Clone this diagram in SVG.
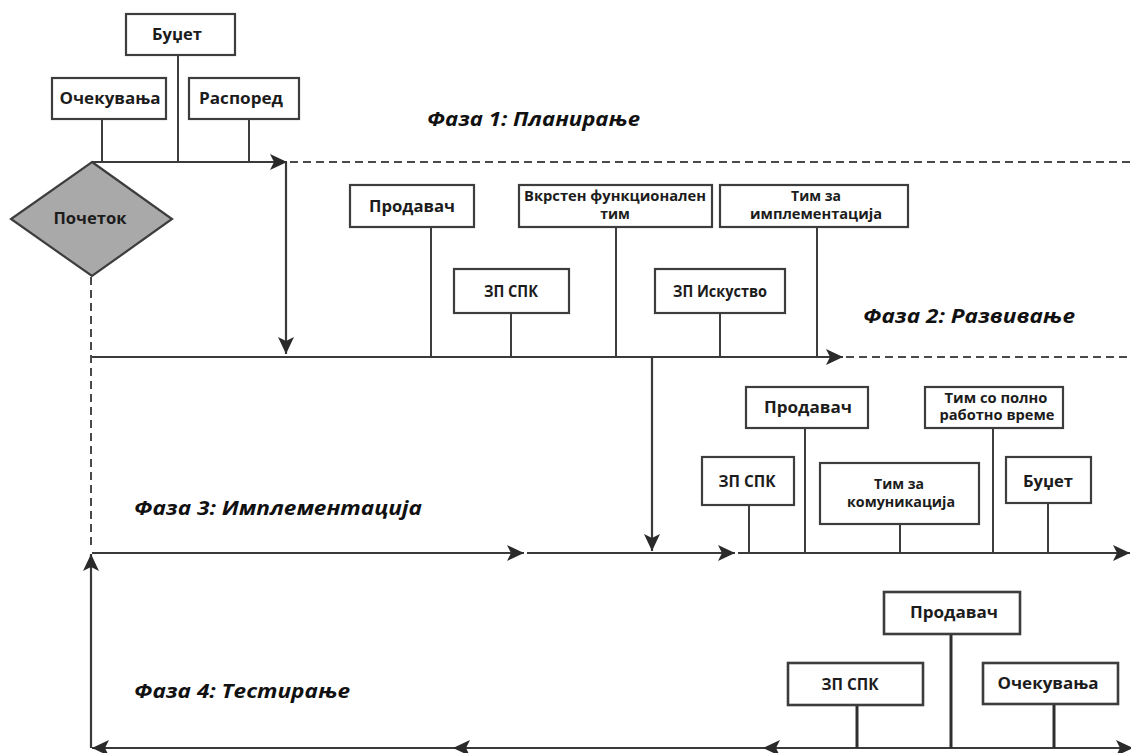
<svg xmlns="http://www.w3.org/2000/svg" width="1131" height="753" viewBox="0 0 1131 753">
  <style>
    .box { fill: #ffffff; stroke: #3d3d3d; stroke-width: 2.2; }
    .box4 { fill: #ffffff; stroke: #3d3d3d; stroke-width: 2.6; }
    .stem { stroke: #3d3d3d; stroke-width: 2; fill: none; }
    .stem4 { stroke: #2e2e2e; stroke-width: 3; fill: none; }
    .flow { stroke: #3a3a3a; stroke-width: 2.2; fill: none; }
    .dash { stroke: #4a4a4a; stroke-width: 2; fill: none; stroke-dasharray: 8 5; }
    .lbl { font-family: "Open Sans", "Liberation Sans", sans-serif; font-weight: 700; font-size: 16px; fill: #1c1c1c; text-anchor: middle; }
    .lbl2 { font-family: "Open Sans", "Liberation Sans", sans-serif; font-weight: 700; font-size: 14px; fill: #1c1c1c; text-anchor: middle; }
    .phase { font-family: "Open Sans", "Liberation Sans", sans-serif; font-weight: 700; font-style: italic; font-size: 20px; fill: #111111; }
  </style>
  <defs>
    <marker id="arrow" viewBox="0 0 17 16" markerWidth="17" markerHeight="16" refX="17" refY="8" orient="auto" markerUnits="userSpaceOnUse">
      <path d="M0,0 L17,8 L0,16 L4,8 Z" fill="#2a2a2a"/>
    </marker>
  </defs>

  <rect width="1131" height="753" fill="#ffffff"/>

  <!-- connectors: main flow lines, dashed phase borders and stems -->
  <g id="connectors">
    <!-- phase 1 -->
    <line class="flow" x1="92" y1="162" x2="287" y2="162" marker-end="url(#arrow)"/>
    <line class="dash" x1="290" y1="162" x2="1131" y2="162"/>
    <line class="flow" x1="286" y1="162" x2="286" y2="354" marker-end="url(#arrow)"/>
    <line class="stem" x1="102" y1="119" x2="102" y2="162"/>
    <line class="stem" x1="178" y1="55" x2="178" y2="162"/>
    <line class="stem" x1="249" y1="119" x2="249" y2="162"/>

    <!-- start diamond down to phase 3 -->
    <line class="dash" x1="91" y1="277" x2="91" y2="550"/>

    <!-- phase 2 -->
    <line class="flow" x1="92" y1="357" x2="843" y2="357" marker-end="url(#arrow)"/>
    <line class="dash" x1="846" y1="357" x2="1131" y2="357"/>
    <line class="stem" x1="431" y1="227" x2="431" y2="357"/>
    <line class="stem" x1="511" y1="313" x2="511" y2="357"/>
    <line class="stem" x1="616" y1="227" x2="616" y2="357"/>
    <line class="stem" x1="720" y1="313" x2="720" y2="357"/>
    <line class="stem" x1="817" y1="227" x2="817" y2="357"/>
    <line class="flow" x1="652" y1="357" x2="652" y2="551" marker-end="url(#arrow)"/>

    <!-- phase 3 -->
    <line class="flow" x1="92" y1="553" x2="524" y2="553" marker-end="url(#arrow)"/>
    <line class="flow" x1="527" y1="553" x2="735" y2="553" marker-end="url(#arrow)"/>
    <line class="flow" x1="738" y1="553" x2="1130" y2="553" marker-end="url(#arrow)"/>
    <line class="stem" x1="749" y1="505" x2="749" y2="553"/>
    <line class="stem" x1="805" y1="428" x2="805" y2="553"/>
    <line class="stem" x1="900" y1="524" x2="900" y2="553"/>
    <line class="stem" x1="993" y1="428" x2="993" y2="553"/>
    <line class="stem" x1="1048" y1="503" x2="1048" y2="553"/>

    <!-- phase 4 (right to left) and return up -->
    <line class="flow" x1="1131" y1="748" x2="763" y2="748" marker-end="url(#arrow)"/>
    <line class="flow" x1="763" y1="748" x2="453" y2="748" marker-end="url(#arrow)"/>
    <line class="flow" x1="453" y1="748" x2="92" y2="748" marker-end="url(#arrow)"/>
    <path d="M1116,740 L1133,748 L1116,756 L1120,748 Z" fill="#2a2a2a"/>
    <line class="flow" x1="91" y1="748" x2="91" y2="554" marker-end="url(#arrow)"/>
    <line class="stem4" x1="857" y1="705" x2="857" y2="748"/>
    <line class="stem4" x1="951" y1="634" x2="951" y2="748"/>
    <line class="stem4" x1="1054" y1="704" x2="1054" y2="748"/>
  </g>

  <!-- start -->
  <g id="start">
    <polygon points="92,162 172,219 92,276 11,219" fill="#a9a9a9" stroke="#3d3d3d" stroke-width="2.2"/>
    <text class="lbl" x="90" y="224" textLength="73" lengthAdjust="spacingAndGlyphs">Почеток</text>
  </g>

  <!-- phase 1: planning -->
  <g id="p1-budget">
    <rect class="box" x="126" y="14" width="109" height="41"/>
    <text class="lbl" x="177" y="40" textLength="50" lengthAdjust="spacingAndGlyphs">Буџет</text>
  </g>
  <g id="p1-expectations">
    <rect class="box" x="52" y="78" width="114" height="41"/>
    <text class="lbl" x="110" y="104" textLength="101" lengthAdjust="spacingAndGlyphs">Очекувања</text>
  </g>
  <g id="p1-schedule">
    <rect class="box" x="189" y="78" width="110" height="41"/>
    <text class="lbl" x="241" y="104" textLength="84" lengthAdjust="spacingAndGlyphs">Распоред</text>
  </g>
  <text id="phase1" class="phase" x="427" y="126" textLength="213" lengthAdjust="spacingAndGlyphs">Фаза 1: Планирање</text>

  <!-- phase 2: development -->
  <g id="p2-vendor">
    <rect class="box" x="350" y="185" width="124" height="42"/>
    <text class="lbl" x="412" y="212" textLength="86" lengthAdjust="spacingAndGlyphs">Продавач</text>
  </g>
  <g id="p2-crossteam">
    <rect class="box" x="519" y="185" width="193" height="42"/>
    <text class="lbl2" x="615" y="201" textLength="182" lengthAdjust="spacingAndGlyphs">Вкрстен функционален</text>
    <text class="lbl2" x="615" y="219">тим</text>
  </g>
  <g id="p2-implteam">
    <rect class="box" x="720" y="185" width="188" height="42"/>
    <text class="lbl2" x="816" y="201">Тим за</text>
    <text class="lbl2" x="816" y="219" textLength="132" lengthAdjust="spacingAndGlyphs">имплементација</text>
  </g>
  <g id="p2-zpspk">
    <rect class="box" x="454" y="269" width="115" height="44"/>
    <text class="lbl" x="511" y="297" textLength="54" lengthAdjust="spacingAndGlyphs">ЗП СПК</text>
  </g>
  <g id="p2-experience">
    <rect class="box" x="655" y="269" width="130" height="44"/>
    <text class="lbl" x="720" y="297" textLength="94" lengthAdjust="spacingAndGlyphs">ЗП Искуство</text>
  </g>
  <text id="phase2" class="phase" x="863" y="323" textLength="212" lengthAdjust="spacingAndGlyphs">Фаза 2: Развивање</text>

  <!-- phase 3: implementation -->
  <g id="p3-zpspk">
    <rect class="box" x="702" y="457" width="92" height="48"/>
    <text class="lbl" x="747" y="487" textLength="57" lengthAdjust="spacingAndGlyphs">ЗП СПК</text>
  </g>
  <g id="p3-vendor">
    <rect class="box" x="746" y="387" width="122" height="41"/>
    <text class="lbl" x="808" y="413" textLength="88" lengthAdjust="spacingAndGlyphs">Продавач</text>
  </g>
  <g id="p3-commteam">
    <rect class="box" x="820" y="463" width="159" height="61"/>
    <text class="lbl2" x="899" y="489">Тим за</text>
    <text class="lbl2" x="901" y="507" textLength="108" lengthAdjust="spacingAndGlyphs">комуникација</text>
  </g>
  <g id="p3-fulltime">
    <rect class="box" x="925" y="387" width="138" height="41"/>
    <text class="lbl2" x="996" y="403" textLength="103" lengthAdjust="spacingAndGlyphs">Тим со полно</text>
    <text class="lbl2" x="997" y="420" textLength="115" lengthAdjust="spacingAndGlyphs">работно време</text>
  </g>
  <g id="p3-budget">
    <rect class="box" x="1006" y="457" width="85" height="46"/>
    <text class="lbl" x="1048" y="487" textLength="50" lengthAdjust="spacingAndGlyphs">Буџет</text>
  </g>
  <text id="phase3" class="phase" x="134" y="515" textLength="288" lengthAdjust="spacingAndGlyphs">Фаза 3: Имплементација</text>

  <!-- phase 4: testing -->
  <g id="p4-vendor">
    <rect class="box4" x="884" y="592" width="136" height="42"/>
    <text class="lbl" x="954" y="618" textLength="88" lengthAdjust="spacingAndGlyphs">Продавач</text>
  </g>
  <g id="p4-zpspk">
    <rect class="box4" x="788" y="663" width="135" height="42"/>
    <text class="lbl" x="850" y="690" textLength="57" lengthAdjust="spacingAndGlyphs">ЗП СПК</text>
  </g>
  <g id="p4-expectations">
    <rect class="box4" x="983" y="663" width="135" height="41"/>
    <text class="lbl" x="1048" y="689" textLength="101" lengthAdjust="spacingAndGlyphs">Очекувања</text>
  </g>
  <text id="phase4" class="phase" x="134" y="698" textLength="216" lengthAdjust="spacingAndGlyphs">Фаза 4: Тестирање</text>
</svg>
